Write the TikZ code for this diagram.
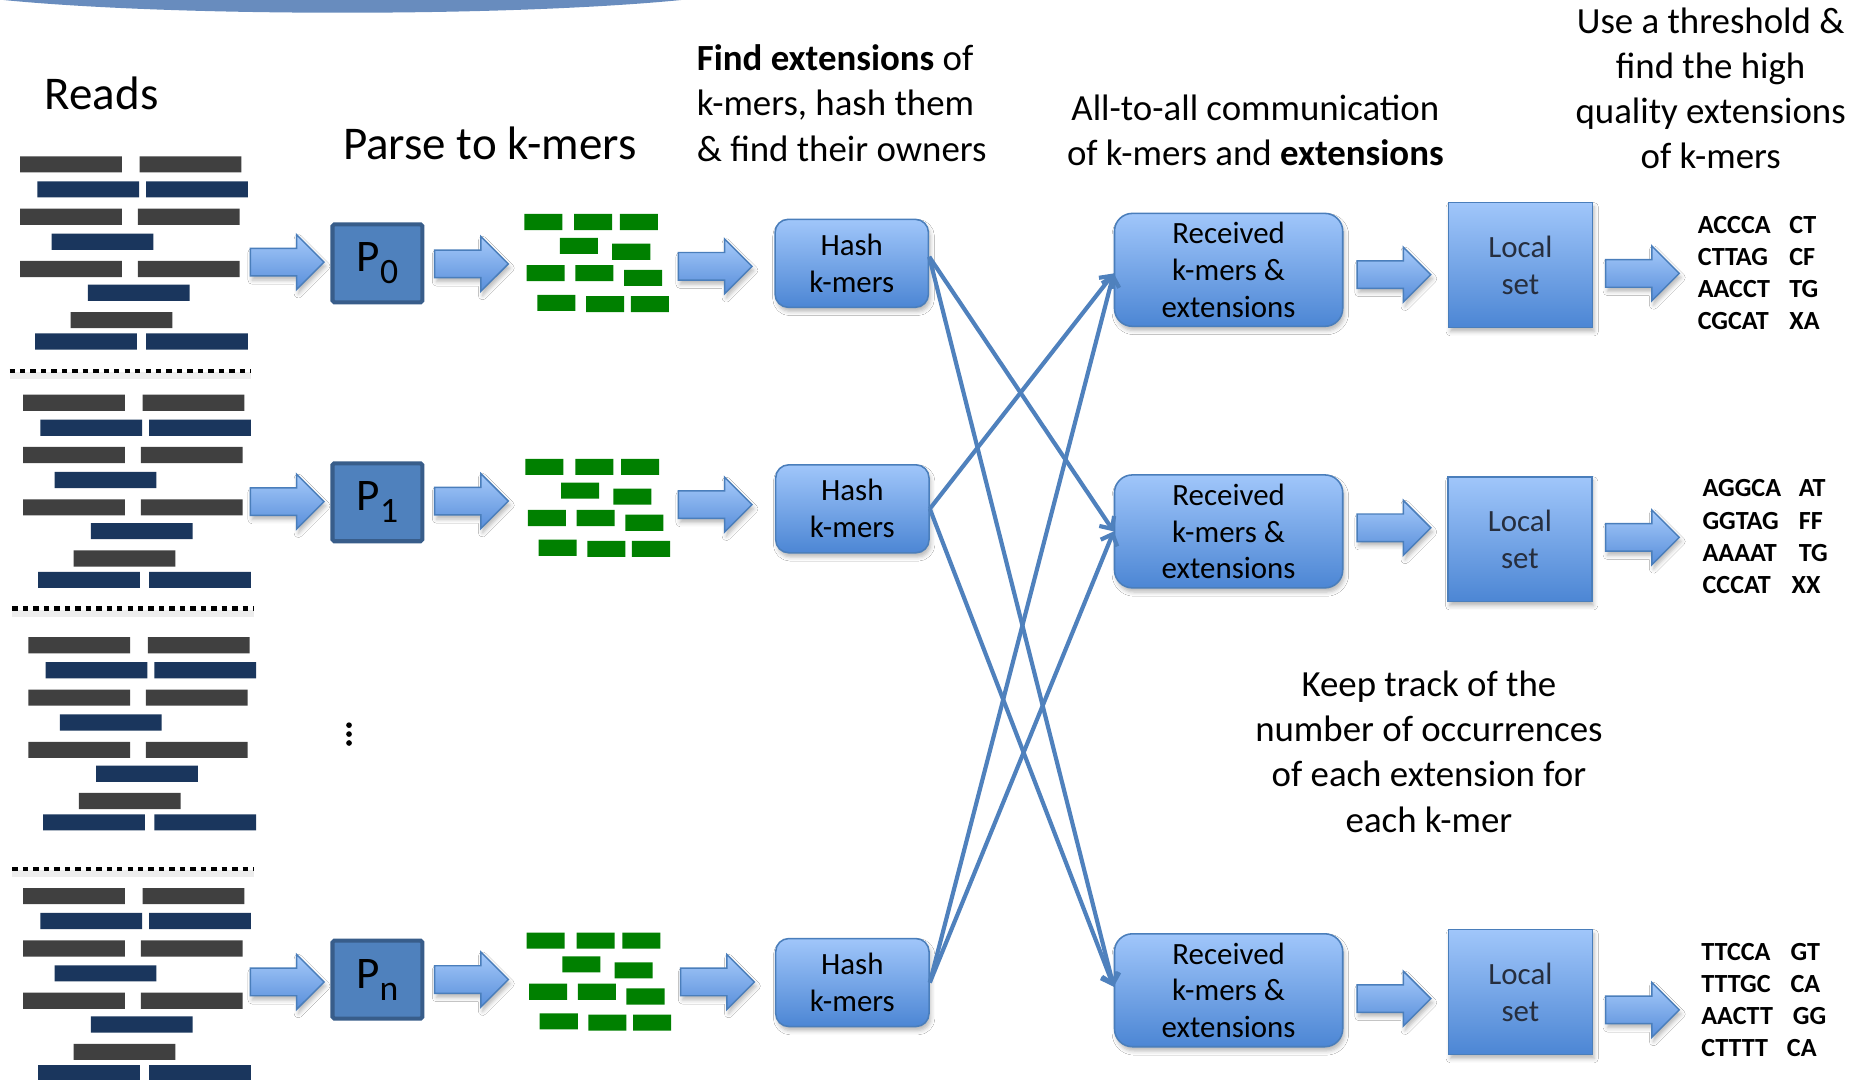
\documentclass[tikz,border=0pt]{standalone}
\usepackage{fontspec}
\setmainfont{Carlito}
\usetikzlibrary{shapes.arrows,arrows.meta,shadows.blur}

\definecolor{barGray}{RGB}{64,64,64}
\definecolor{barNavy}{RGB}{26,54,93}
\definecolor{kmerGreen}{RGB}{0,128,0}
\definecolor{boxTop}{RGB}{160,198,250}
\definecolor{boxBottom}{RGB}{76,134,212}
\definecolor{boxEdge}{RGB}{74,126,187}
\definecolor{arrowTop}{RGB}{166,202,250}
\definecolor{arrowBottom}{RGB}{88,142,218}
\definecolor{procFill}{RGB}{79,129,189}
\definecolor{procEdge}{RGB}{56,93,138}
\definecolor{linkBlue}{RGB}{79,129,189}
\definecolor{bannerBlue}{RGB}{104,140,190}
\definecolor{localText}{RGB}{38,46,62}

% one block of sequencing reads (bars), shifted by (#1,#2)
\newcommand\readgroup[2]{%
  \begin{scope}[shift={(#1,#2)}]
    \fill[barGray]
      (19.5,332) rectangle ++(85.6,13.6) (120,332) rectangle ++(85.6,13.6)
      (19.5,376) rectangle ++(85.6,13.6) (118.5,376) rectangle ++(85.6,13.6)
      (19.5,420) rectangle ++(85.6,13.6) (118.5,420) rectangle ++(85.6,13.6)
      (62,463) rectangle ++(85.6,13.6);
    \fill[barNavy]
      (34,353) rectangle ++(85.6,13.6) (125.5,353) rectangle ++(85.6,13.6)
      (46,397) rectangle ++(85.6,13.6)
      (76.5,440) rectangle ++(85.6,13.6)
      (32,481) rectangle ++(85.6,13.6) (125.5,481) rectangle ++(85.6,13.6);
  \end{scope}}

% one cluster of k-mers, shifted by (#1,#2)
\newcommand\kmergroup[2]{%
  \begin{scope}[shift={(#1,#2)}]
    \fill[kmerGreen]
      (441,180) rectangle ++(32,13.5) (483,180) rectangle ++(32,13.5) (521.5,180) rectangle ++(32,13.5)
      (471,200) rectangle ++(32,13.5) (515,205) rectangle ++(32,13.5)
      (443,223) rectangle ++(32,13.5) (484,223) rectangle ++(32,13.5) (525,227) rectangle ++(32,13.5)
      (452,248) rectangle ++(32,13.5) (493,249) rectangle ++(32,13.5) (530.6,249) rectangle ++(32,13.5);
  \end{scope}}

% dotted separator between read blocks: from #1 to #2 at height #3
\newcommand\readdivider[3]{%
  \draw[black, line width=6pt, opacity=0.07] (#1,#3+4) -- (#2,#3+4);
  \draw[black, line width=4pt, dash pattern=on 4.5pt off 4.3pt] (#1,#3) -- (#2,#3);}

\newcommand\kpair[3]{\makebox[#1][l]{#2}#3}

\tikzset{
  softshadow/.style={blur shadow={shadow xshift=1.5pt, shadow yshift=-3.5pt,
      shadow blur radius=3.5pt, shadow opacity=28}},
  gradbox/.style={draw=boxEdge, line width=1.3pt, top color=boxTop, bottom color=boxBottom,
      softshadow, align=center, inner sep=0pt, font=\fontsize{26}{31}\selectfont},
  hashbox/.style={gradbox, rounded corners=11pt, minimum width=129pt, minimum height=74pt},
  recvbox/.style={gradbox, rounded corners=15pt, minimum width=192pt, minimum height=95pt},
  localbox/.style={gradbox, minimum width=121pt, minimum height=105pt, text=localText},
  procbox/.style={draw=procEdge, line width=3.4pt, fill=procFill, rounded corners=1.5pt,
      minimum width=75.6pt, minimum height=65.6pt, inner sep=0pt},
  blockarrow/.style={single arrow, draw=boxEdge, line width=1.2pt,
      top color=arrowTop, bottom color=arrowBottom, softshadow,
      inner xsep=0pt, inner ysep=11pt, minimum height=62pt,
      single arrow head extend=11.5pt, single arrow tip angle=90, anchor=tail},
  link/.style={draw=linkBlue, line width=3.5pt, -{Straight Barb[length=8pt,width=15pt]}},
  heading/.style={font=\fontsize{39.5}{46}\selectfont, inner sep=0pt},
  note/.style={font=\fontsize{31}{38}\selectfont, inner sep=0pt},
  extlist/.style={font=\fontsize{22}{27}\selectfont\bfseries, align=left, inner sep=0pt, anchor=base west},
}

\begin{document}
\begin{tikzpicture}[x=1pt, y=-1pt]
  \useasboundingbox (0,0) rectangle (1568,908);
  \fill[white] (0,0) rectangle (1568,908);

  % banner edge along the top
  \begin{scope}
    \clip (0,0) rectangle (1568,908);
    \fill[bannerBlue] (288,-16.8) ellipse [x radius=360, y radius=27.5];
  \end{scope}

  % ---------------- reads ----------------
  \node[heading, anchor=base west] (readsLabel) at (37.5,92.5) {Reads};
  \readgroup{-2.5}{-200.5}
  \readdivider{8}{211}{312}
  \readgroup{0}{0}
  \readdivider{10.5}{214}{512}
  \readgroup{4.3}{204}
  \readdivider{10.5}{214}{731}
  \readgroup{0}{415}

  % ---------------- processors ----------------
  \node[heading, anchor=base west] (parseLabel) at (288.5,134) {Parse to k-mers};
  \node[procbox] (p0) at (317.5,221.5) {\fontsize{38}{38}\selectfont P\raisebox{-10pt}{\fontsize{30}{30}\selectfont 0}};
  \node[procbox] (p1) at (317.5,422.5) {\fontsize{38}{38}\selectfont P\raisebox{-10pt}{\fontsize{30}{30}\selectfont 1}};
  \node[procbox] (pn) at (317.5,824) {\fontsize{38}{38}\selectfont P\raisebox{-10pt}{\fontsize{30}{30}\selectfont n}};
  \fill (293.6,610) circle (2.4) (293.6,617.5) circle (2.4) (293.6,625) circle (2.4);

  % ---------------- k-mers ----------------
  \kmergroup{0}{0}
  \kmergroup{1}{206}
  \kmergroup{2}{604.5}

  % multi-line notes are placed by the baseline of their last line
  \node[note, anchor=base west, align=left] (findNote) at (586,135.5)
    {\textbf{Find extensions} of\\k-mers, hash them\\\& find their owners};

  % ---------------- hashing ----------------
  \node[hashbox] (hash0) at (716.5,221.5) {Hash\\k-mers};
  \node[hashbox] (hash1) at (717,428) {Hash\\k-mers};
  \node[hashbox] (hashn) at (717,826.5) {Hash\\k-mers};

  % ---------------- received ----------------
  \node[note, anchor=base, align=center] (commNote) at (1056,139)
    {All-to-all communication\\of k-mers and \textbf{extensions}};
  \node[recvbox] (recv0) at (1033.5,227) {Received\\k-mers \&\\extensions};
  \node[recvbox] (recv1) at (1033.5,447) {Received\\k-mers \&\\extensions};
  \node[recvbox] (recvn) at (1033.5,833) {Received\\k-mers \&\\extensions};

  \node[note, anchor=base, align=center] (trackNote) at (1202,700)
    {Keep track of the\\number of occurrences\\of each extension for\\each k-mer};

  % ---------------- local sets ----------------
  \node[localbox] (local0) at (1279,223) {Local\\set};
  \node[localbox] (local1) at (1278.5,453.6) {Local\\set};
  \node[localbox] (localn) at (1279,834.5) {Local\\set};

  \node[note, anchor=base, align=center] (thresholdNote) at (1439,142)
    {Use a threshold \&\\find the high\\quality extensions\\of k-mers};

  \node[extlist] (ext0) at (1428,277)
    {\kpair{77pt}{ACCCA}{CT}\\\kpair{77pt}{CTTAG}{CF}\\\kpair{77pt}{AACCT}{TG}\\\kpair{77pt}{CGCAT}{XA}};
  \node[extlist] (ext1) at (1432,499)
    {\kpair{81pt}{AGGCA}{AT}\\\kpair{81pt}{GGTAG}{FF}\\\kpair{81pt}{AAAAT}{TG}\\\kpair{75pt}{CCCAT}{XX}};
  \node[extlist] (extn) at (1431,889)
    {\kpair{75pt}{TTCCA}{GT}\\\kpair{75pt}{TTTGC}{CA}\\\kpair{77pt}{AACTT}{GG}\\\kpair{72pt}{CTTTT}{CA}};

  % ---------------- block arrows ----------------
  \node[blockarrow] (readsToP0) at (210,220.5) {};
  \node[blockarrow] (p0ToKmers) at (365,222) {};
  \node[blockarrow] (kmersToHash0) at (570,224) {};
  \node[blockarrow] (recv0ToLocal) at (1141,231) {};
  \node[blockarrow] (local0ToExt) at (1350,230) {};

  \node[blockarrow] (readsToP1) at (210,422) {};
  \node[blockarrow] (p1ToKmers) at (365,421.5) {};
  \node[blockarrow] (kmersToHash1) at (570,424.5) {};
  \node[blockarrow] (recv1ToLocal) at (1141,444) {};
  \node[blockarrow] (local1ToExt) at (1350,452) {};

  \node[blockarrow] (readsToPn) at (210,826) {};
  \node[blockarrow] (pnToKmers) at (365,824) {};
  \node[blockarrow] (kmersToHashn) at (572,826) {};
  \node[blockarrow] (recvnToLocal) at (1141,840) {};
  \node[blockarrow] (localnToExt) at (1350,849.5) {};

  % ---------------- all-to-all exchange ----------------
  \draw[link] ([yshift=5.5pt]hash0.east) -- (recv1.west);
  \draw[link] ([yshift=5.5pt]hash0.east) -- ([yshift=3pt]recvn.west);
  \draw[link] (hash1.east) -- ([yshift=-3pt]recv0.west);
  \draw[link] (hash1.east) -- ([yshift=3pt]recvn.west);
  \draw[link] (hashn.east) -- ([yshift=-3pt]recv0.west);
  \draw[link] (hashn.east) -- (recv1.west);
\end{tikzpicture}
\end{document}
